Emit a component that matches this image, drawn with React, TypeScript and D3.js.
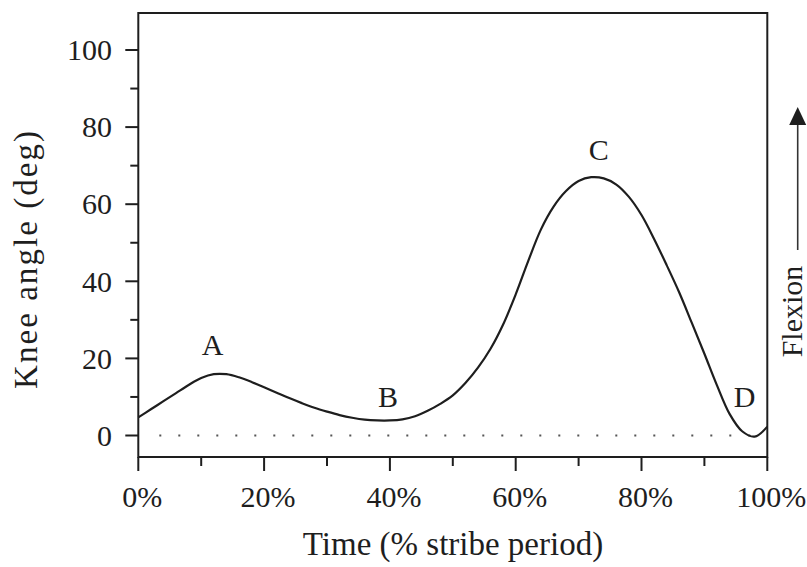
import React from "react";
import * as d3 from "d3";

// Gait cycle knee angle (deg) against % of stride period
const timePct = [0, 2, 4, 6, 8, 10, 12, 14, 16, 18, 20, 22, 24, 26, 28, 30, 32, 34, 36, 38, 40, 42, 44, 46, 48, 50, 52, 54, 56, 58, 60, 62, 64, 66, 68, 70, 72, 74, 76, 78, 80, 82, 84, 86, 88, 90, 92, 94, 96, 98, 100];
const kneeAngle = [4.7, 6.8, 8.9, 11.0, 13.1, 14.9, 15.9, 15.9, 15.1, 13.9, 12.5, 11.1, 9.7, 8.4, 7.2, 6.2, 5.3, 4.6, 4.1, 3.9, 3.9, 4.2, 5.0, 6.4, 8.2, 10.4, 13.6, 17.6, 22.5, 28.8, 36.6, 45.3, 53.4, 59.3, 63.4, 66.0, 67.0, 66.7, 65.1, 61.9, 57.2, 51.0, 44.2, 37.1, 29.2, 21.2, 13.0, 5.6, 1.1, -0.3, 2.3];

const xMajorTicks = [0, 20, 40, 60, 80, 100];
const xMinorTicks = [10, 30, 50, 70, 90];
const yMajorTicks = [0, 20, 40, 60, 80, 100];
const yMinorTicks = [10, 30, 50, 70, 90];

// Phase markers: label, time %, angle of label baseline
const phaseLabels = ["A", "B", "C", "D"];
const phaseTime = [11.8, 39.7, 73.2, 96.4];
const phaseAngle = [21.0, 7.4, 71.5, 7.4];

const xTitle = "Time (% stribe period)";
const yTitle = "Knee angle (deg)";
const sideLabel = "Flexion";

const W = 807;
const H = 567;
const left = 138.3;
const right = 767.3;
const top = 13;
const bottom = 457;
const FONT = "'Liberation Serif', 'Times New Roman', serif";
const INK = "#1e1e1e";

export default function App() {
  const x = d3.scaleLinear().domain([0, 100]).range([left, right]);
  const y = d3.scaleLinear().domain([0, 100]).range([435.5, 50]);

  const line = d3
    .line<number>()
    .x((_, i) => x(timePct[i]))
    .y((d) => y(d))
    .curve(d3.curveCatmullRom.alpha(0.5));

  const path = line(kneeAngle) ?? "";

  return (
    <svg
      width={W}
      height={H}
      style={{ position: "absolute", left: 0, top: 0, background: "#fff" }}
      fontFamily={FONT}
    >
      {/* zero reference */}
      <line
        x1={x(0) + 21}
        x2={x(100)}
        y1={y(0)}
        y2={y(0)}
        stroke="#555"
        strokeWidth={2}
        strokeDasharray="2 17"
      />

      {/* angle curve */}
      <path d={path} fill="none" stroke={INK} strokeWidth={2.2} strokeLinejoin="round" />

      {/* frame */}
      <rect
        x={left}
        y={top}
        width={right - left}
        height={bottom - top}
        fill="none"
        stroke={INK}
        strokeWidth={2}
      />

      {/* y axis ticks */}
      {yMajorTicks.map((t) => (
        <g key={`ym${t}`}>
          <line x1={left - 13} x2={left} y1={y(t)} y2={y(t)} stroke={INK} strokeWidth={2} />
          <text
            x={112}
            y={y(t)}
            dy="0.34em"
            textAnchor="end"
            fontSize={30}
            fill={INK}
          >
            {t}
          </text>
        </g>
      ))}
      {yMinorTicks.map((t) => (
        <line key={`yn${t}`} x1={left - 8} x2={left} y1={y(t)} y2={y(t)} stroke={INK} strokeWidth={2} />
      ))}

      {/* x axis ticks */}
      {xMajorTicks.map((t) => (
        <g key={`xm${t}`}>
          <line x1={x(t)} x2={x(t)} y1={bottom} y2={bottom + 14} stroke={INK} strokeWidth={2} />
          <text x={x(t) + 4} y={507} textAnchor="middle" fontSize={30} fill={INK}>
            {`${t}%`}
          </text>
        </g>
      ))}
      {xMinorTicks.map((t) => (
        <line key={`xn${t}`} x1={x(t)} x2={x(t)} y1={bottom} y2={bottom + 9} stroke={INK} strokeWidth={2} />
      ))}

      {/* phase labels */}
      {phaseLabels.map((lab, i) => (
        <text
          key={lab}
          x={x(phaseTime[i])}
          y={y(phaseAngle[i])}
          textAnchor="middle"
          fontSize={30}
          fill={INK}
        >
          {lab}
        </text>
      ))}

      {/* axis titles */}
      <text x={453} y={555} textAnchor="middle" fontSize={33} fill={INK}>
        {xTitle}
      </text>
      <text
        transform="translate(37,260) rotate(-90)"
        textAnchor="middle"
        fontSize={33}
        textLength={258}
        lengthAdjust="spacing"
        fill={INK}
      >
        {yTitle}
      </text>

      {/* flexion direction */}
      <text
        transform="translate(802,311.5) rotate(-90)"
        textAnchor="middle"
        fontSize={30}
        fill={INK}
      >
        {sideLabel}
      </text>
      <line x1={797.7} x2={797.7} y1={250} y2={122} stroke="#333" strokeWidth={1.6} />
      <path d="M797.7,107 L789.2,125 L806.2,125 Z" fill={INK} />
    </svg>
  );
}
